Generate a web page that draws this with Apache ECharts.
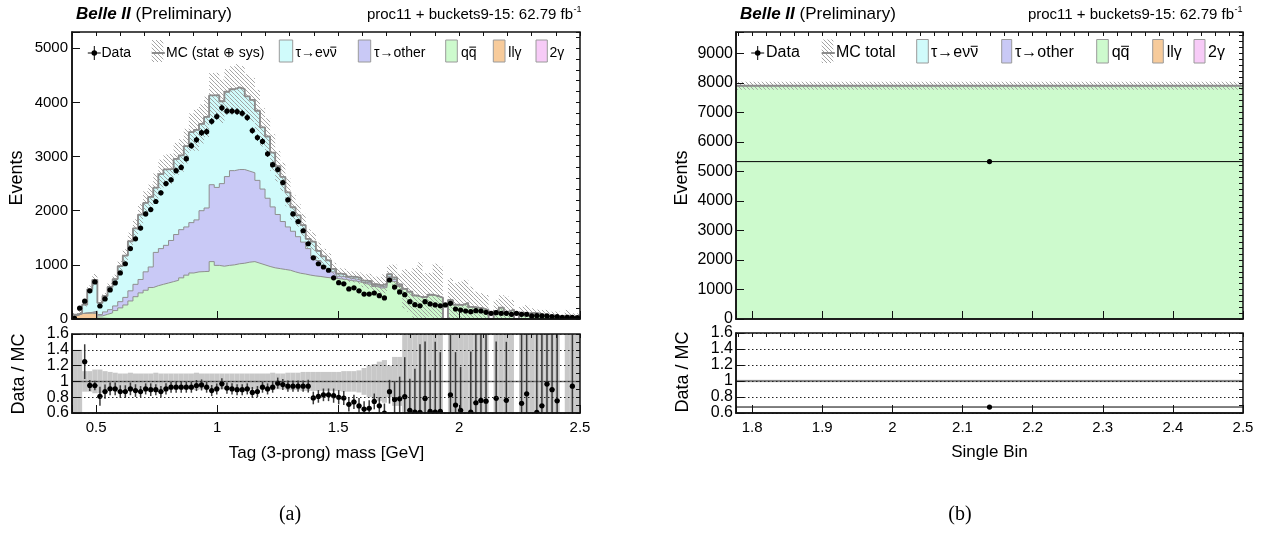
<!DOCTYPE html>
<html>
<head>
<meta charset="utf-8">
<title>Tag (3-prong) mass and single-bin yields</title>
<script src="https://cdn.jsdelivr.net/npm/echarts@6.0.0/dist/echarts.min.js"></script>
<style>
  html, body { margin: 0; padding: 0; background: #ffffff; }
  #chart { width: 1274px; height: 552px; }
</style>
</head>
<body>
<div id="chart"></div>
<script>
// ---------------- (a) Tag (3-prong) mass, 100 bins from 0.4 to 2.5 GeV ----------------
const massRange = [0.4, 2.5];

const dataCounts = [
  10, 200, 330, 520, 685, 240, 370, 537, 667, 850,
  1020, 1300, 1480, 1680, 1940, 2020, 2170, 2330, 2500, 2570,
  2740, 2800, 2960, 3200, 3310, 3440, 3460, 3650, 3740, 3900,
  3840, 3840, 3830, 3800, 3720, 3480, 3350, 3280, 3050, 2850,
  2760, 2520, 2200, 1940, 1800, 1630, 1390, 1130, 1020, 960,
  900, 760, 670, 650, 555, 575, 520, 460, 460, 480,
  430, 390, 720, 590, 500, 450, 320, 265, 245, 320,
  278, 260, 245, 260, 290, 185, 165, 148, 136, 154,
  148, 123, 105, 117, 105, 105, 86, 105, 86, 86,
  56, 62, 56, 56, 43, 43, 31, 31, 31, 25
];

const twoGamma = [
  3, 4, 4, 3, 2, 2, 1, 0, 0, 0,
  0, 0, 0, 0, 0, 0, 0, 0, 0, 0,
  0, 0, 0, 0, 0, 0, 0, 0, 0, 0,
  0, 0, 0, 0, 0, 0, 0, 0, 0, 0,
  0, 0, 0, 0, 0, 0, 0, 0, 0, 0,
  0, 0, 0, 0, 0, 0, 0, 0, 0, 0,
  0, 0, 0, 0, 0, 0, 0, 0, 0, 0,
  0, 0, 0, 0, 0, 0, 0, 0, 0, 0,
  0, 0, 0, 0, 0, 0, 0, 0, 0, 0,
  0, 0, 0, 0, 0, 0, 0, 0, 0, 0
];

const llGamma = [
  60, 95, 105, 105, 100, 15, 10, 8, 6, 5,
  4, 3, 2, 2, 1, 1, 0, 0, 0, 0,
  0, 0, 0, 0, 0, 0, 0, 0, 0, 0,
  0, 0, 0, 0, 0, 0, 0, 0, 0, 0,
  0, 0, 0, 0, 0, 0, 0, 0, 0, 0,
  0, 0, 0, 0, 0, 0, 0, 0, 0, 0,
  0, 0, 0, 0, 0, 0, 0, 0, 0, 0,
  0, 0, 0, 0, 0, 0, 0, 0, 0, 0,
  0, 0, 0, 0, 0, 0, 0, 0, 0, 0,
  0, 0, 0, 0, 0, 0, 0, 0, 0, 0
];

const qqbar = [
  0, 0, 0, 5, 12, 40, 75, 105, 150, 200,
  255, 330, 410, 480, 530, 580, 615, 640, 665, 690,
  715, 760, 810, 850, 870, 875, 880, 1060, 990, 975,
  990, 1000, 1020, 1030, 1050, 1060, 1030, 1000, 970, 945,
  930, 915, 900, 870, 845, 830, 810, 795, 785, 770,
  760, 750, 740, 730, 710, 700, 680, 650, 640, 600,
  570, 580, 760, 690, 600, 558, 504, 434, 402, 408,
  448, 426, 395, 0, 349, 264, 260, 296, 223, 211,
  195, 164, 0, 149, 210, 138, 172, 0, 119, 102,
  112, 102, 81, 58, 48, 57, 0, 62, 33, 50
];

const tauOther = [
  0, 0, 2, 10, 31, 25, 45, 60, 85, 115,
  140, 187, 228, 248, 340, 380, 615, 660, 695, 760,
  845, 890, 890, 930, 960, 1125, 1170, 1420, 1440, 1525,
  1640, 1740, 1740, 1730, 1680, 1640, 1530, 1400, 1260, 1125,
  1000, 885, 800, 750, 675, 590, 490, 365, 295, 220,
  160, 120, 50, 50, 40, 40, 35, 25, 25, 20,
  25, 30, 30, 40, 20, 0, 0, 0, 0, 0,
  0, 0, 0, 0, 0, 0, 0, 0, 0, 0,
  0, 0, 0, 0, 0, 0, 0, 0, 0, 0,
  0, 0, 0, 0, 0, 0, 0, 0, 0, 0
];

const tauEnu = [
  17, 11, 153, 425, 578, 214, 294, 420, 496, 656,
  772, 916, 1034, 1199, 1273, 1296, 1195, 1375, 1402, 1322,
  1396, 1370, 1493, 1672, 1662, 1602, 1683, 1649, 1703, 1521,
  1567, 1503, 1519, 1486, 1380, 1347, 1286, 1138, 1140, 1004,
  892, 825, 640, 444, 395, 314, 179, 270, 179, 167,
  164, 57, 48, 43, 32, 37, 39, 33, 32, 23,
  28, 40, 38, 36, 21, 0, 0, 0, 0, 0,
  0, 0, 0, 0, 0, 0, 0, 0, 0, 0,
  0, 0, 0, 0, 0, 0, 0, 0, 0, 0,
  0, 0, 0, 0, 0, 0, 0, 0, 0, 0
];

// relative MC uncertainty (stat ⊕ sys) per bin
const mcRelErr = [
  0.40, 0.40, 0.13, 0.13, 0.15, 0.15, 0.13, 0.12, 0.11, 0.10,
  0.10, 0.11, 0.10, 0.10, 0.10, 0.10, 0.11, 0.10, 0.10, 0.10,
  0.10, 0.10, 0.10, 0.10, 0.11, 0.10, 0.10, 0.10, 0.10, 0.10,
  0.10, 0.10, 0.10, 0.10, 0.10, 0.10, 0.10, 0.10, 0.10, 0.11,
  0.10, 0.10, 0.11, 0.11, 0.11, 0.12, 0.12, 0.12, 0.12, 0.12,
  0.12, 0.12, 0.12, 0.13, 0.13, 0.13, 0.14, 0.17, 0.20, 0.22,
  0.25, 0.27, 0.20, 0.31, 0.31, 0.65, 0.74, 1.17, 1.60, 1.07,
  0.90, 1.40, 1.45, 0, 1.16, 1.50, 1.66, 1.44, 1.68, 1.40,
  1.44, 1.70, 0, 1.36, 1.10, 2.00, 1.05, 0, 0.90, 1.50,
  0.77, 0.70, 1.06, 1.90, 1.80, 1.40, 0, 1.70, 2.20, 1.10
];

// uncertainty on Data / MC per bin
const ratioErr = [
  0.10, 0.15, 0.22, 0.07, 0.06, 0.12, 0.09, 0.08, 0.08, 0.08,
  0.08, 0.08, 0.08, 0.07, 0.07, 0.08, 0.07, 0.07, 0.07, 0.07,
  0.07, 0.07, 0.07, 0.07, 0.07, 0.07, 0.07, 0.07, 0.07, 0.07,
  0.07, 0.07, 0.07, 0.07, 0.07, 0.07, 0.07, 0.07, 0.07, 0.07,
  0.07, 0.07, 0.07, 0.07, 0.07, 0.07, 0.08, 0.08, 0.08, 0.08,
  0.08, 0.09, 0.09, 0.09, 0.09, 0.09, 0.10, 0.10, 0.10, 0.10,
  0.11, 0.12, 0.15, 0.23, 0.28, 0.50, 0.40, 0.55, 0.86, 0.72,
  0.52, 0.89, 0.75, 0, 0.76, 0.67, 0.55, 0.04, 0.77, 1.00,
  1.00, 1.00, 0, 0.72, 0.04, 0.74, 0.04, 0, 1.00, 1.00,
  0.04, 1.00, 1.00, 1.00, 1.00, 1.00, 0, 0.04, 1.00, 0.04
];

// ---------------- (b) single bin above the tau mass ----------------
const singleRange = [1.777, 2.5];
const singleData = [5330];
const singleTwoGamma = [0];
const singleLlGamma = [0];
const singleQqbar = [7900];
const singleTauOther = [0];
const singleTauEnu = [0];
const singleRelErr = [0.017];
const singleRatioErr = [0.012];

// ---------------- tick labels ----------------
const massTickLabels = ['0.5', '1', '1.5', '2', '2.5'];
const singleTickLabels = ['1.8', '1.9', '2', '2.1', '2.2', '2.3', '2.4', '2.5'];
const eventsTicksA = ['0', '1000', '2000', '3000', '4000', '5000'];
const eventsTicksB = ['0', '1000', '2000', '3000', '4000', '5000', '6000', '7000', '8000', '9000'];
const ratioTickLabels = ['0.6', '0.8', '1', '1.2', '1.4', '1.6'];

// ---------------- styling ----------------
const SANS = '"Liberation Sans", Arial, Helvetica, sans-serif';
const SERIF = '"Liberation Serif", "DejaVu Serif", serif';
const colors = {
  tauEnu: '#d0fbfb',
  tauOther: '#c9c9f6',
  qqbar: '#cdfacd',
  llGamma: '#f7cb9b',
  twoGamma: '#f7cbf7',
  outline: '#8f8f8f',
  band: '#c8c8c8'
};

function hatchCanvas() {
  const c = document.createElement('canvas');
  c.width = 4; c.height = 4;
  const g = c.getContext('2d');
  g.strokeStyle = '#9a9a9a';
  g.lineWidth = 0.9;
  g.beginPath();
  g.moveTo(-1, -1); g.lineTo(5, 5);
  g.moveTo(-1, 3); g.lineTo(1, 5);
  g.moveTo(3, -1); g.lineTo(5, 1);
  g.stroke();
  return c;
}
const hatch = { image: hatchCanvas(), repeat: 'repeat' };

const measureCtx = document.createElement('canvas').getContext('2d');
function textWidth(str, size) {
  measureCtx.font = size + 'px ' + SANS;
  return measureCtx.measureText(str).width;
}

function labelFrom(list) {
  return function (v) {
    const hit = list.find(s => Math.abs(parseFloat(s) - v) < 1e-6 * Math.max(1, Math.abs(v)));
    return hit === undefined ? '' : hit;
  };
}

function xAxisDef(grid, range, split, tickLen, labels) {
  return {
    type: 'value', gridIndex: grid, min: range[0], max: range[1], splitNumber: split, z: 6,
    axisLine: { show: tickLen > 5, onZero: false, lineStyle: { color: '#111', width: 1.5 } },
    axisTick: { show: true, inside: true, length: tickLen, lineStyle: { color: '#111', width: 1 } },
    minorTick: { show: false }, splitLine: { show: false },
    axisLabel: labels ? {
      show: true, formatter: labelFrom(labels), color: '#000', fontFamily: SANS, fontSize: 15,
      margin: 7, showMinLabel: true, showMaxLabel: true, hideOverlap: false
    } : { show: false }
  };
}

function yAxisDef(grid, range, split, tickLen, labels, fontSize, margin, dotted) {
  return {
    type: 'value', gridIndex: grid, min: range[0], max: range[1], splitNumber: split, z: 6,
    axisLine: { show: tickLen > 5, onZero: false, lineStyle: { color: '#111', width: 1.5 } },
    axisTick: { show: true, inside: true, length: tickLen, lineStyle: { color: '#111', width: 1 } },
    minorTick: { show: false },
    splitLine: dotted ? { show: true, lineStyle: { type: [1.5, 2.5], color: '#222', width: 1 } } : { show: false },
    axisLabel: labels ? {
      show: true, formatter: labelFrom(labels), color: '#000', fontFamily: SANS, fontSize: fontSize,
      margin: margin, showMinLabel: true, showMaxLabel: true, hideOverlap: false
    } : { show: false }
  };
}

function stepPoints(lo, w, vals) {
  const pts = vals.map((v, i) => [lo + i * w, v]);
  pts.push([lo + vals.length * w, vals[vals.length - 1]]);
  return pts;
}

function pointRenderer(barColor, barWidth, radius) {
  return (params, api) => {
    const x = api.value(0), y = api.value(3), e = api.value(4);
    const c = api.coord([x, y]);
    const l = api.coord([api.value(1), y]);
    const r = api.coord([api.value(2), y]);
    const t = api.coord([x, y + e]);
    const b = api.coord([x, y - e]);
    return {
      type: 'group', children: [
        { type: 'line', shape: { x1: l[0], y1: l[1], x2: r[0], y2: r[1] }, style: { stroke: '#000', lineWidth: 1 } },
        { type: 'line', shape: { x1: t[0], y1: t[1], x2: b[0], y2: b[1] }, style: { stroke: barColor, lineWidth: barWidth } },
        { type: 'circle', shape: { cx: c[0], cy: c[1], r: radius }, style: { fill: '#000' } }
      ]
    };
  };
}

// stacked MC histogram, MC uncertainty hatch and data points on one pad
function histogramPad(axis, range, comps, relErr, counts) {
  const n = counts.length;
  const w = (range[1] - range[0]) / n;
  let run = new Array(n).fill(0);
  const layers = comps.map(c => {
    run = run.map((v, i) => v + c.values[i]);
    return { color: c.color, top: run.slice(), used: c.values.some(v => v > 0) };
  });
  const total = run;
  const series = [];
  for (let k = layers.length - 1; k >= 0; k--) {
    if (!layers[k].used) continue;
    series.push({
      type: 'line', xAxisIndex: axis, yAxisIndex: axis, step: 'end', symbol: 'none', silent: true,
      data: stepPoints(range[0], w, layers[k].top),
      lineStyle: { color: colors.outline, width: 1 },
      areaStyle: { color: layers[k].color, opacity: 1 }, z: 2
    });
  }
  const bandData = [];
  total.forEach((t, i) => {
    if (t > 0) bandData.push([range[0] + i * w, range[0] + (i + 1) * w, Math.max(0, t * (1 - relErr[i])), t * (1 + relErr[i])]);
  });
  series.push({
    type: 'custom', xAxisIndex: axis, yAxisIndex: axis, clip: true, silent: true, z: 3,
    data: bandData,
    renderItem: (params, api) => {
      const a = api.coord([api.value(0), api.value(3)]);
      const b = api.coord([api.value(1), api.value(2)]);
      return { type: 'rect', shape: { x: a[0], y: a[1], width: b[0] - a[0], height: b[1] - a[1] }, style: { fill: hatch } };
    }
  });
  series.push({
    type: 'line', xAxisIndex: axis, yAxisIndex: axis, step: 'end', symbol: 'none', silent: true, z: 4,
    data: stepPoints(range[0], w, total),
    lineStyle: { color: '#8c8c8c', width: 1.8 }
  });
  series.push({
    type: 'custom', xAxisIndex: axis, yAxisIndex: axis, clip: true, silent: true, z: 5,
    data: counts.map((d, i) => [range[0] + (i + 0.5) * w, range[0] + i * w, range[0] + (i + 1) * w, d, Math.sqrt(d)]),
    renderItem: pointRenderer('#000', 1, 2.6)
  });
  return { series, total, w };
}

// Data / MC pad
function ratioPad(axis, range, counts, total, relErr, err, w) {
  const band = [], pts = [];
  total.forEach((t, i) => {
    if (t <= 0) return;
    const x0 = range[0] + i * w, x1 = range[0] + (i + 1) * w;
    band.push([x0, x1, 1 - relErr[i], 1 + relErr[i]]);
    pts.push([(x0 + x1) / 2, x0, x1, counts[i] / t, err[i]]);
  });
  return [
    {
      type: 'custom', xAxisIndex: axis, yAxisIndex: axis, clip: true, silent: true, z: 2,
      data: band,
      renderItem: (params, api) => {
        const a = api.coord([api.value(0), api.value(3)]);
        const b = api.coord([api.value(1), api.value(2)]);
        return { type: 'rect', shape: { x: a[0], y: a[1], width: b[0] - a[0], height: b[1] - a[1] }, style: { fill: colors.band } };
      }
    },
    {
      type: 'line', xAxisIndex: axis, yAxisIndex: axis, symbol: 'none', silent: true, z: 3,
      data: [[range[0], 1], [range[1], 1]],
      lineStyle: { color: '#707070', width: 1.5 }
    },
    {
      type: 'custom', xAxisIndex: axis, yAxisIndex: axis, clip: true, silent: true, z: 4,
      data: pts,
      renderItem: pointRenderer('#3a3a3a', 1.5, 2.6)
    }
  ];
}

const padA = histogramPad(0, massRange, [
  { values: twoGamma, color: colors.twoGamma },
  { values: llGamma, color: colors.llGamma },
  { values: qqbar, color: colors.qqbar },
  { values: tauOther, color: colors.tauOther },
  { values: tauEnu, color: colors.tauEnu }
], mcRelErr, dataCounts);

const padB = histogramPad(4, singleRange, [
  { values: singleTwoGamma, color: colors.twoGamma },
  { values: singleLlGamma, color: colors.llGamma },
  { values: singleQqbar, color: colors.qqbar },
  { values: singleTauOther, color: colors.tauOther },
  { values: singleTauEnu, color: colors.tauEnu }
], singleRelErr, singleData);

const ratioA = ratioPad(2, massRange, dataCounts, padA.total, mcRelErr, ratioErr, padA.w);
const ratioB = ratioPad(6, singleRange, singleData, padB.total, singleRelErr, singleRatioErr, padB.w);

// ---------------- text, legends ----------------
function text(x, y, str, size, extra) {
  const el = {
    type: 'text', x: x, y: y, z: 100, silent: true,
    style: Object.assign({
      text: str, fill: '#000', font: size + 'px ' + SANS,
      align: 'left', verticalAlign: 'middle', textAlign: 'left', textVerticalAlign: 'middle'
    }, extra && extra.style ? extra.style : {})
  };
  if (extra && extra.rotation) el.rotation = extra.rotation;
  return el;
}

// label whose last glyph carries a bar (antiparticle)
function barredLabel(x, y, base, barred, size) {
  const w0 = textWidth(base, size);
  const w1 = textWidth(base + barred, size);
  const yb = y - size * 0.42;
  return [
    text(x, y, base + barred, size),
    { type: 'line', z: 100, silent: true, shape: { x1: x + w0 + 0.5, y1: yb, x2: x + w1 - 0.5, y2: yb }, style: { stroke: '#000', lineWidth: 1 } }
  ];
}

function legend(cfg) {
  const els = [];
  const yc = cfg.y, y0 = cfg.box[0], y1 = cfg.box[1];
  els.push({ type: 'line', z: 100, silent: true, shape: { x1: cfg.dataX, y1: yc - 7, x2: cfg.dataX, y2: yc + 7 }, style: { stroke: '#000', lineWidth: 1 } });
  els.push({ type: 'line', z: 100, silent: true, shape: { x1: cfg.dataX - 6.5, y1: yc, x2: cfg.dataX + 6.5, y2: yc }, style: { stroke: '#000', lineWidth: 1 } });
  els.push({ type: 'circle', z: 100, silent: true, shape: { cx: cfg.dataX, cy: yc, r: 2.8 }, style: { fill: '#000' } });
  els.push(text(cfg.dataTextX, yc, 'Data', cfg.size));
  els.push({ type: 'rect', z: 100, silent: true, shape: { x: cfg.mc[0], y: y0, width: cfg.mc[1] - cfg.mc[0], height: y1 - y0 }, style: { fill: hatch } });
  els.push({ type: 'line', z: 100, silent: true, shape: { x1: cfg.mc[0], y1: yc, x2: cfg.mc[1] + 1.5, y2: yc }, style: { stroke: '#8c8c8c', lineWidth: 2 } });
  els.push(text(cfg.mc[2], yc, cfg.mcLabel, cfg.size));
  cfg.items.forEach(it => {
    els.push({ type: 'rect', z: 100, silent: true, shape: { x: it[0], y: y0, width: it[1] - it[0], height: y1 - y0 }, style: { fill: it[3], stroke: '#9a9a9a', lineWidth: 1 } });
    const lab = it[4];
    if (lab.barred) {
      barredLabel(it[2], yc, lab.base, lab.barred, cfg.size).forEach(e => els.push(e));
    } else {
      els.push(text(it[2], yc, lab.base, cfg.size));
    }
  });
  return els;
}

const legendNames = [
  { base: 'τ→eν', barred: 'ν' },
  { base: 'τ→other' },
  { base: 'q', barred: 'q' },
  { base: 'llγ' },
  { base: '2γ' }
];
const legendColors = [colors.tauEnu, colors.tauOther, colors.qqbar, colors.llGamma, colors.twoGamma];

const legendA = legend({
  y: 53, box: [40, 62], size: 14, dataX: 94.3, dataTextX: 101.5,
  mc: [151.7, 163.3, 166], mcLabel: 'MC (stat ⊕ sys)',
  items: [
    [279.3, 292.7, 295.5, legendColors[0], legendNames[0]],
    [358.3, 370.7, 374, legendColors[1], legendNames[1]],
    [445.7, 457.3, 461, legendColors[2], legendNames[2]],
    [493.3, 505, 508.3, legendColors[3], legendNames[3]],
    [536, 547.3, 549.5, legendColors[4], legendNames[4]]
  ]
});
const legendB = legend({
  y: 53, box: [39.5, 63], size: 16, dataX: 757.7, dataTextX: 766,
  mc: [821.7, 833.3, 836], mcLabel: 'MC total',
  items: [
    [916.7, 928.3, 931, legendColors[0], legendNames[0]],
    [1001.7, 1011.7, 1015, legendColors[1], legendNames[1]],
    [1096.7, 1108.3, 1111.7, legendColors[2], legendNames[2]],
    [1152.7, 1163.3, 1166.7, legendColors[3], legendNames[3]],
    [1194, 1205, 1208, legendColors[4], legendNames[4]]
  ]
});

function header(xLeft, xRight) {
  return [
    {
      type: 'text', x: xLeft, y: 14, z: 100, silent: true,
      style: {
        text: '{b|Belle II} (Preliminary)', fill: '#000', font: '17px ' + SANS,
        align: 'left', verticalAlign: 'middle',
        rich: { b: { fontFamily: SANS, fontSize: 17, fontWeight: 'bold', fontStyle: 'italic', fill: '#000' } }
      }
    },
    text(xRight - 7, 15, 'proc11 + buckets9-15: 62.79 fb', 15, { style: { align: 'right', textAlign: 'right' } }),
    text(xRight - 6.5, 10, '-1', 9)
  ];
}

const graphics = [].concat(
  header(76, 580),
  header(740, 1241),
  legendA,
  legendB,
  [
    text(17, 178, 'Events', 18, { rotation: Math.PI / 2, style: { align: 'center', textAlign: 'center' } }),
    text(19, 374, 'Data / MC', 18, { rotation: Math.PI / 2, style: { align: 'center', textAlign: 'center' } }),
    text(682, 178, 'Events', 18, { rotation: Math.PI / 2, style: { align: 'center', textAlign: 'center' } }),
    text(683, 372, 'Data / MC', 18, { rotation: Math.PI / 2, style: { align: 'center', textAlign: 'center' } }),
    text(326.5, 453, 'Tag (3-prong) mass [GeV]', 17, { style: { align: 'center', textAlign: 'center' } }),
    text(989.5, 452, 'Single Bin', 17, { style: { align: 'center', textAlign: 'center' } }),
    text(290, 515, '(a)', 20, { style: { align: 'center', textAlign: 'center', font: '20px ' + SERIF } }),
    text(960, 515, '(b)', 20, { style: { align: 'center', textAlign: 'center', font: '20px ' + SERIF } })
  ]
);

const gridStyle = { show: true, borderColor: '#111', borderWidth: 1.5, backgroundColor: 'transparent', z: 5, containLabel: false, outerBoundsMode: 'none' };

const option = {
  animation: false,
  backgroundColor: '#ffffff',
  textStyle: { fontFamily: SANS },
  grid: [
    Object.assign({ left: 72, top: 32, width: 508, height: 287 }, gridStyle),
    Object.assign({ left: 72, top: 334, width: 508, height: 79 }, gridStyle),
    Object.assign({ left: 736, top: 32, width: 507, height: 287 }, gridStyle),
    Object.assign({ left: 736, top: 333, width: 507, height: 80 }, gridStyle)
  ],
  xAxis: [
    xAxisDef(0, massRange, 5, 8, null),
    xAxisDef(0, massRange, 21, 4, null),
    xAxisDef(1, massRange, 5, 8, massTickLabels),
    xAxisDef(1, massRange, 21, 4, null),
    xAxisDef(2, singleRange, 5, 8, null),
    xAxisDef(2, singleRange, 36, 4, null),
    xAxisDef(3, singleRange, 5, 8, singleTickLabels),
    xAxisDef(3, singleRange, 36, 4, null)
  ],
  yAxis: [
    yAxisDef(0, [0, 5300], 5, 8, eventsTicksA, 15, 4, false),
    yAxisDef(0, [0, 5300], 26, 4, null, 15, 4, false),
    yAxisDef(1, [0.6, 1.6], 5, 8, ratioTickLabels, 16, 3, true),
    yAxisDef(1, [0.6, 1.6], 10, 4, null, 16, 3, false),
    yAxisDef(2, [0, 9720], 9, 8, eventsTicksB, 16, 3, false),
    yAxisDef(2, [0, 9720], 48, 4, null, 16, 3, false),
    yAxisDef(3, [0.6, 1.6], 5, 8, ratioTickLabels, 16, 3, true),
    yAxisDef(3, [0.6, 1.6], 10, 4, null, 16, 3, false)
  ],
  series: [].concat(padA.series, ratioA, padB.series, ratioB),
  graphic: graphics
};

const chart = echarts.init(document.getElementById('chart'), null, { renderer: 'canvas', width: 1274, height: 552 });
chart.setOption(option);
</script>
</body>
</html>
